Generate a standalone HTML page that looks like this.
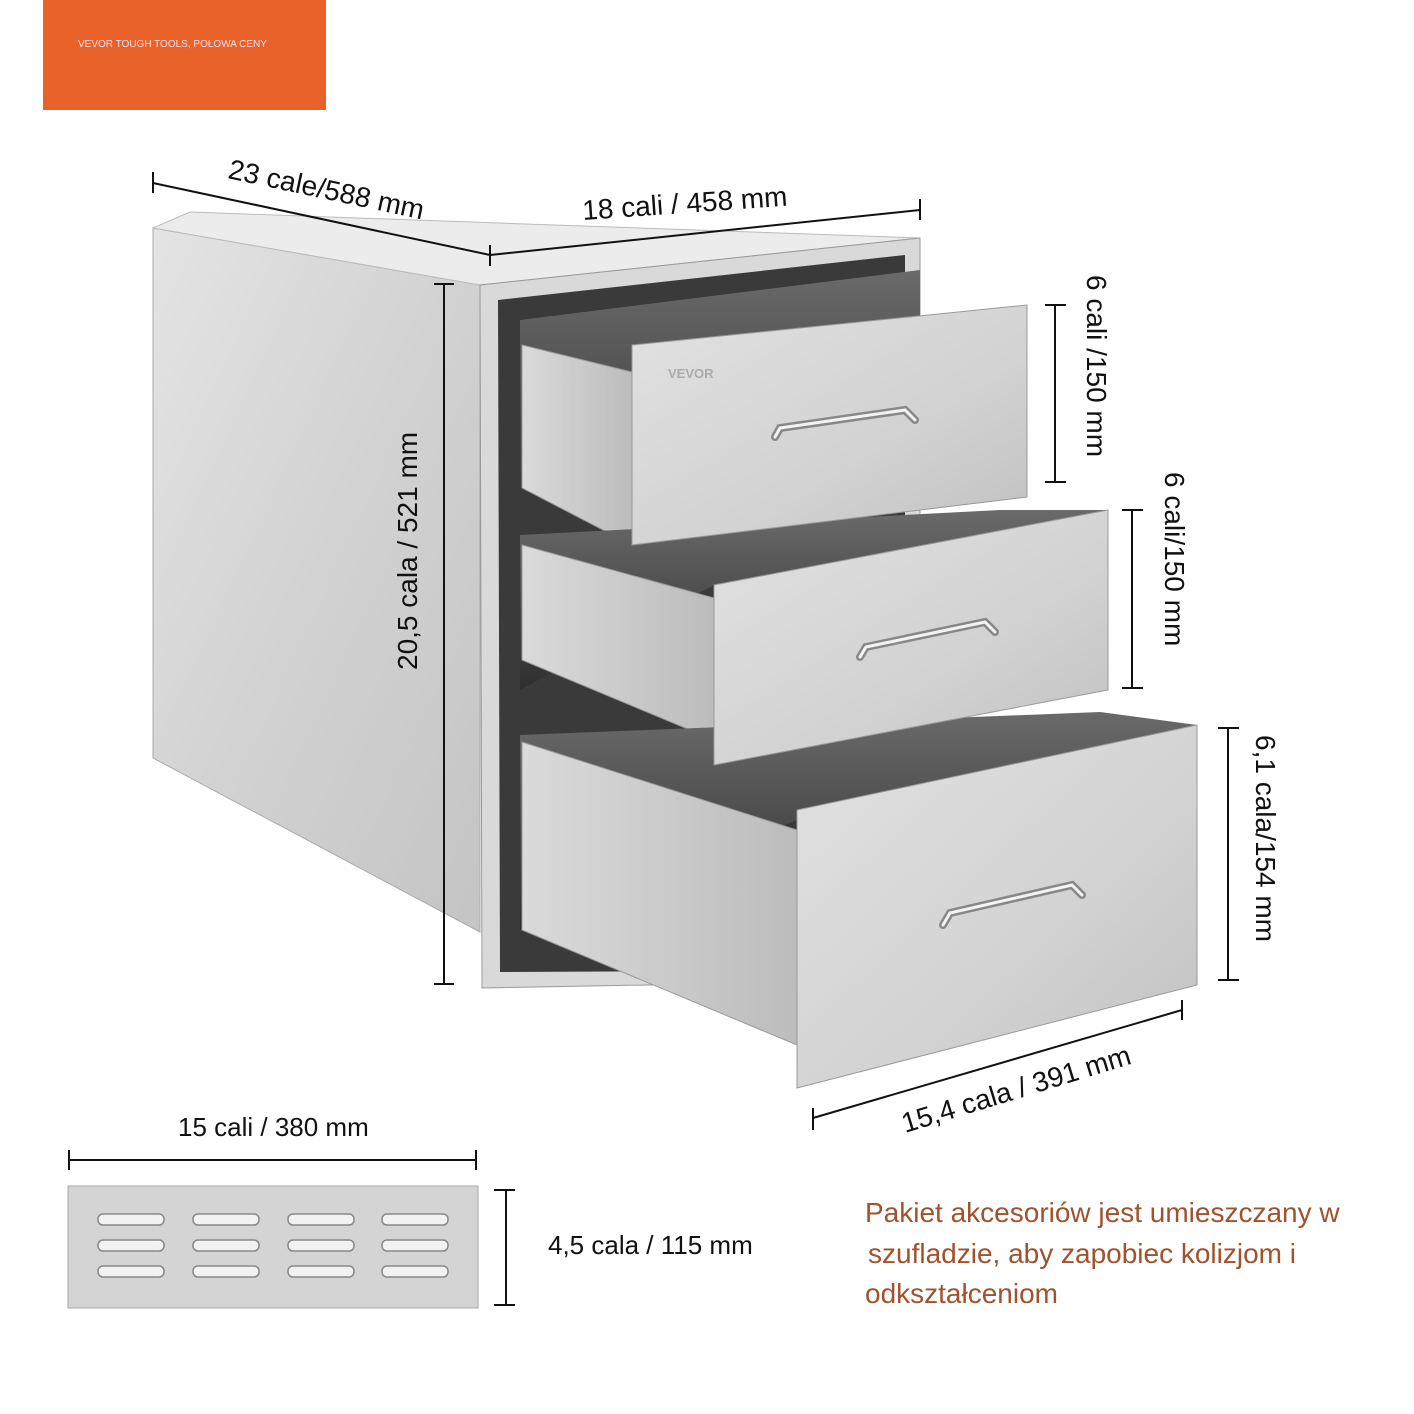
<!DOCTYPE html>
<html><head><meta charset="utf-8"><style>
html,body{margin:0;padding:0;background:#fff}
svg{display:block}
text{font-family:"Liberation Sans",sans-serif}
</style></head><body>
<svg width="1414" height="1414" viewBox="0 0 1414 1414" xmlns="http://www.w3.org/2000/svg">
<defs>
<linearGradient id="side" x1="0" y1="0" x2="1" y2="1"><stop offset="0" stop-color="#e4e4e4"/><stop offset="0.5" stop-color="#d2d2d2"/><stop offset="1" stop-color="#c4c4c4"/></linearGradient>
<linearGradient id="front" x1="0" y1="0" x2="1" y2="1"><stop offset="0" stop-color="#e2e2e2"/><stop offset="0.6" stop-color="#d2d2d2"/><stop offset="1" stop-color="#c0c0c0"/></linearGradient>
<linearGradient id="inner" x1="0" y1="0" x2="0" y2="1"><stop offset="0" stop-color="#6a6a6a"/><stop offset="1" stop-color="#2e2e2e"/></linearGradient>
<linearGradient id="box" x1="0" y1="0" x2="1" y2="0"><stop offset="0" stop-color="#dadada"/><stop offset="1" stop-color="#bcbcbc"/></linearGradient>
</defs>
<rect x="43" y="0" width="283" height="110" fill="#e8622a"/>
<text x="78" y="47" font-size="10" fill="#fde">VEVOR TOUGH TOOLS, POŁOWA CENY</text>
<polygon points="153,228 480,285 480,932 153,758" fill="url(#side)" stroke="#aaa"/>
<polygon points="153,228 190,212 920,238 480,285" fill="#ececec" stroke="#bbb"/>
<polygon points="480,285 920,238 920,980 482,988" fill="#d9d9d9" stroke="#999"/>
<polygon points="498,300 905,255 905,970 500,972" fill="#3a3a3a"/>
<polygon points="520,320 920,270 920,500 632,545 520,488" fill="url(#inner)"/>
<polygon points="522,345 632,372 632,545 522,488" fill="url(#box)" stroke="#999"/>
<polygon points="520,535 1000,510 1108,510 714,585 520,690" fill="url(#inner)"/>
<polygon points="522,545 714,598 714,740 522,660" fill="url(#box)" stroke="#999"/>
<polygon points="520,735 1100,712 1197,725 797,820 520,930" fill="url(#inner)"/>
<polygon points="522,742 797,830 797,1045 522,930" fill="url(#box)" stroke="#999"/>
<polygon points="632,345 1027,305 1027,497 632,545" fill="url(#front)" stroke="#999"/>
<polygon points="714,585 1108,510 1108,690 714,765" fill="url(#front)" stroke="#999"/>
<polygon points="797,810 1197,725 1197,985 797,1088" fill="url(#front)" stroke="#999"/>
<text x="668" y="378" font-size="13" font-weight="bold" fill="#aaa">VEVOR</text>
<g fill="none" stroke-linecap="round">
<path d="M775,437 L780,428 L905,410 L915,420" stroke="#888" stroke-width="8"/>
<path d="M775,437 L780,428 L905,410 L915,420" stroke="#f4f4f4" stroke-width="3"/>
<path d="M860,657 L866,647 L985,622 L995,632" stroke="#888" stroke-width="8"/>
<path d="M860,657 L866,647 L985,622 L995,632" stroke="#f4f4f4" stroke-width="3"/>
<path d="M943,925 L950,913 L1072,885 L1082,895" stroke="#888" stroke-width="8"/>
<path d="M943,925 L950,913 L1072,885 L1082,895" stroke="#f4f4f4" stroke-width="3"/>
</g>
<g stroke="#111" stroke-width="2" fill="none">
<line x1="153" y1="172" x2="153" y2="193"/><line x1="153" y1="183" x2="490" y2="255"/><line x1="490" y1="245" x2="490" y2="266"/>
<line x1="490" y1="255" x2="920" y2="210"/><line x1="920" y1="199" x2="920" y2="220"/>
<line x1="444" y1="284" x2="444" y2="984"/><line x1="434" y1="284" x2="454" y2="284"/><line x1="434" y1="984" x2="454" y2="984"/>
<line x1="1055" y1="305" x2="1055" y2="482"/><line x1="1045" y1="305" x2="1066" y2="305"/><line x1="1045" y1="482" x2="1066" y2="482"/>
<line x1="1132" y1="510" x2="1132" y2="688"/><line x1="1122" y1="510" x2="1143" y2="510"/><line x1="1122" y1="688" x2="1143" y2="688"/>
<line x1="1228" y1="728" x2="1228" y2="980"/><line x1="1218" y1="728" x2="1239" y2="728"/><line x1="1218" y1="980" x2="1239" y2="980"/>
<line x1="813" y1="1118" x2="1182" y2="1010"/><line x1="813" y1="1108" x2="813" y2="1130"/><line x1="1182" y1="1000" x2="1182" y2="1020"/>
<line x1="69" y1="1160" x2="476" y2="1160"/><line x1="69" y1="1150" x2="69" y2="1170"/><line x1="476" y1="1150" x2="476" y2="1170"/>
<line x1="506" y1="1190" x2="506" y2="1305"/><line x1="494" y1="1190" x2="515" y2="1190"/><line x1="494" y1="1305" x2="515" y2="1305"/>
</g>
<g font-size="28" fill="#111">
<text transform="translate(227,178) rotate(12)">23 cale/588 mm</text>
<text transform="translate(583,220) rotate(-4)">18 cali / 458 mm</text>
<text transform="translate(417,670) rotate(-90)">20,5 cala / 521 mm</text>
<text transform="translate(1087,275) rotate(90)">6 cali /150 mm</text>
<text transform="translate(1165,472) rotate(90)">6 cali/150 mm</text>
<text transform="translate(1256,735) rotate(90)">6,1 cala/154 mm</text>
<text transform="translate(905,1133) rotate(-17)">15,4 cala / 391 mm</text>
<text x="178" y="1136" font-size="26">15 cali / 380 mm</text>
<text x="548" y="1254" font-size="26">4,5 cala / 115 mm</text>
</g>
<rect x="68" y="1186" width="410" height="122" fill="#d4d4d4" stroke="#aaa"/>
<g fill="#f2f2f2" stroke="#888" stroke-width="1.5">
<rect x="98" y="1214" width="66" height="11" rx="5"/><rect x="193" y="1214" width="66" height="11" rx="5"/><rect x="288" y="1214" width="66" height="11" rx="5"/><rect x="382" y="1214" width="66" height="11" rx="5"/>
<rect x="98" y="1240" width="66" height="11" rx="5"/><rect x="193" y="1240" width="66" height="11" rx="5"/><rect x="288" y="1240" width="66" height="11" rx="5"/><rect x="382" y="1240" width="66" height="11" rx="5"/>
<rect x="98" y="1266" width="66" height="11" rx="5"/><rect x="193" y="1266" width="66" height="11" rx="5"/><rect x="288" y="1266" width="66" height="11" rx="5"/><rect x="382" y="1266" width="66" height="11" rx="5"/>
</g>
<g font-size="28" fill="#a0522d">
<text x="865" y="1222">Pakiet akcesoriów jest umieszczany w</text>
<text x="868" y="1263">szufladzie, aby zapobiec kolizjom i</text>
<text x="865" y="1303">odkształceniom</text>
</g>
</svg>
</body></html>
